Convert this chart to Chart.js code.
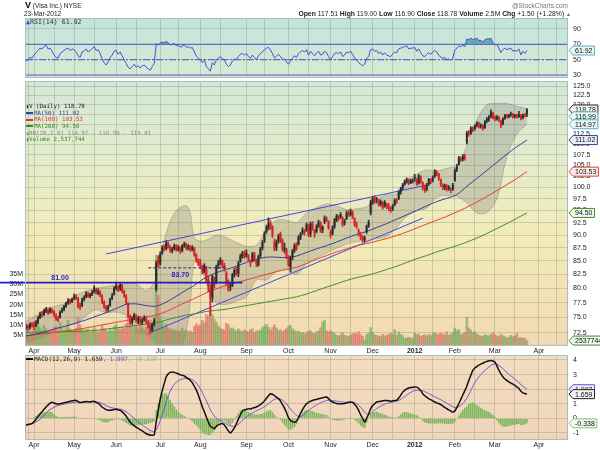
<!DOCTYPE html>
<html><head><meta charset="utf-8">
<script src="https://cdn.jsdelivr.net/npm/chart.js@4.4.1/dist/chart.umd.min.js"></script>
<style>
body{margin:0;background:#fff;width:600px;height:450px;overflow:hidden;position:relative;font-family:"Liberation Sans",Arial,sans-serif;}
canvas{position:absolute;left:0;}
.t{position:absolute;white-space:nowrap;z-index:5;}
.leg{font-family:"DejaVu Sans Mono",monospace;}
.sw{display:inline-block;width:7px;height:2px;vertical-align:middle;margin-right:1px;}
</style></head><body>
<canvas id="rsi" width="600" height="90" style="top:0"></canvas>
<canvas id="main" width="600" height="285" style="top:70px"></canvas>
<canvas id="macd" width="600" height="105" style="top:345px"></canvas>

<div class="t" style="left:25px;top:1px;font-size:6.5px;line-height:9px;color:#222"><b style="font-size:9px;color:#000">V</b> (Visa Inc.) NYSE</div>
<div class="t" style="left:24px;top:10px;font-size:6.5px;line-height:8px;color:#222">23-Mar-2012</div>
<div class="t" style="right:32px;top:2px;font-size:6.5px;line-height:8px;color:#777">@StockCharts.com</div>
<div class="t" style="right:29px;top:10px;font-size:6.8px;line-height:8px;color:#222"><b>Open</b> 117.51 <b>High</b> 119.00 <b>Low</b> 116.90 <b>Close</b> 118.78 <b>Volume</b> 2.5M <b>Chg</b> +1.50 (+1.28%) <span style="color:#2a9a2a;font-size:5px">&#9650;</span></div>

<div class="t leg" style="left:26px;top:18px;font-size:6.6px;line-height:8px;color:#333"><span style="color:#4444cc">&#9650;</span>RSI(14) 61.92</div>

<div class="t leg" style="left:26px;top:103px;font-size:5.8px;line-height:6.65px;">
<div style="color:#222"><span style="font-size:5px">&#9646;</span>V (Daily) 118.78</div>
<div style="color:#3b3b9c"><span class="sw" style="background:#3b3b9c"></span>MA(50) 111.02</div>
<div style="color:#e0392b"><span class="sw" style="background:#e0392b"></span>MA(100) 103.53</div>
<div style="color:#3a8a2a"><span class="sw" style="background:#3a8a2a"></span>MA(200) 94.50</div>
<div style="color:#8a8a8a"><span style="font-size:5px">&#9646;</span>BB(20,2.0) 114.97 - 116.99 - 119.01</div>
<div style="color:#3a8a2a"><span style="font-size:5px">&#9646;</span>Volume 2,537,744</div>
</div>

<div class="t leg" style="left:26px;top:355px;font-size:6px;line-height:7px;color:#222"><span class="sw" style="background:#111"></span>MACD(12,26,9) 1.659<span style="color:#6a4fd6">, 1.997</span><span style="color:#8cc47a">, -0.338</span></div>

<script>
// ---------- DATA ----------
const START_DATE = '2011-03-28';
const SLOTS = 271;
const HOLIDAYS = ['2011-04-22','2011-05-30','2011-07-04','2011-09-05','2011-11-24','2011-12-26','2012-01-02','2012-01-16','2012-02-20','2012-04-06'];
const TICK_LABELS = ['Apr','May','Jun','Jul','Aug','Sep','Oct','Nov','Dec','2012','Feb','Mar','Apr'];

const OPEN = [73.3,73.6,73.3,73.8,73.9,73.6,74.2,75.0,75.6,75.5,
76.0,76.2,75.9,76.3,76.0,75.3,74.9,75.0,76.0,76.3,
76.9,77.5,77.9,77.6,78.2,78.5,78.2,77.0,77.0,78.0,
78.5,79.0,78.6,78.9,79.4,79.8,79.2,79.4,78.7,77.6,
76.8,76.4,77.0,78.2,79.0,80.0,80.3,79.9,80.5,79.5,
78.6,77.4,75.2,74.3,74.9,75.3,74.4,75.0,74.1,74.6,
74.9,74.3,73.6,72.9,73.9,79.8,85.3,84.5,86.5,87.6,
87.3,88.3,87.7,86.9,87.4,87.9,87.1,87.5,86.9,87.9,
88.2,87.4,87.7,87.1,87.5,86.2,85.0,84.8,83.9,83.0,
83.8,81.6,79.9,78.4,81.6,81.0,84.1,84.7,85.0,84.2,
82.8,80.6,80.4,80.5,82.4,83.4,82.6,84.9,85.8,86.5,
86.0,86.0,84.7,85.0,86.3,85.0,84.2,85.9,87.4,88.8,
90.6,91.3,92.5,91.6,88.7,87.5,88.8,90.2,89.0,87.1,
87.1,85.6,83.8,85.7,87.0,88.1,88.2,89.4,90.4,90.7,
90.9,91.9,90.2,92.3,90.9,90.6,91.7,92.5,91.0,92.6,
93.4,92.7,90.6,90.3,91.7,93.0,93.7,93.6,93.5,92.4,
93.3,94.5,94.1,94.6,93.3,92.1,90.9,90.2,89.5,89.0,
90.6,91.8,94.5,96.7,97.9,97.2,97.1,96.2,96.6,95.9,
96.4,96.0,95.2,95.3,96.2,97.3,97.5,98.9,99.8,100.7,
101.2,101.6,101.0,101.3,102.3,101.7,100.9,102.4,101.0,100.1,
99.5,100.7,101.5,101.5,102.5,103.4,103.0,101.7,100.4,99.9,
100.3,99.7,99.6,99.6,101.5,103.9,105.2,106.6,106.3,107.0,
110.5,112.9,112.7,113.9,113.8,114.7,115.2,114.5,114.6,114.1,
115.8,116.1,116.9,117.8,116.8,116.3,116.7,115.8,115.0,116.5,
117.3,116.9,117.4,117.5,116.9,117.3,116.9,117.3,116.6,117.4,
117.51];
const HIGH = [73.9,73.8,74.1,74.2,74.3,74.5,75.2,75.9,76.0,76.4,
76.7,76.5,76.6,76.5,76.2,75.6,75.2,76.1,76.6,77.1,
77.6,78.2,78.1,78.3,79.0,78.9,78.4,77.4,78.3,78.7,
79.4,79.3,79.1,79.6,80.5,80.1,79.9,79.6,78.9,77.8,
77.0,77.1,78.3,79.1,80.3,81.1,80.5,80.9,80.7,79.7,
78.9,77.5,75.4,75.1,75.7,75.5,75.2,75.2,74.8,75.3,
75.1,74.5,73.8,74.1,74.9,85.0,86.0,86.7,87.9,88.0,
88.9,88.6,87.9,87.6,88.2,88.1,87.9,87.7,88.1,88.6,
88.4,88.1,87.9,87.9,87.6,86.4,85.4,85.3,84.2,84.5,
84.0,82.3,80.6,82.4,82.0,84.2,85.1,85.6,85.2,84.6,
83.0,81.5,81.0,82.7,83.6,83.8,84.9,86.3,86.8,86.9,
87.1,86.2,85.2,86.6,86.6,85.3,86.1,87.6,88.9,90.7,
92.0,93.5,92.9,91.9,89.2,89.0,90.2,90.6,89.3,88.4,
87.4,86.0,85.9,87.2,88.3,88.5,89.9,90.5,91.5,91.1,
92.4,92.2,92.6,92.7,91.1,92.1,93.0,92.7,91.9,93.9,
93.7,92.9,91.0,91.9,93.4,94.2,94.0,94.6,93.7,93.2,
94.9,95.0,95.3,94.9,93.5,92.6,91.2,90.5,89.9,89.8,
92.0,93.0,97.2,98.0,98.2,97.8,97.4,97.3,96.9,97.1,
96.6,96.5,95.8,96.3,97.5,97.6,99.3,100.0,100.9,101.7,
102.1,101.9,101.8,101.9,102.9,102.0,102.9,102.6,101.2,100.5,
100.9,102.0,101.9,102.6,104.0,103.8,103.2,101.9,100.8,100.7,
100.6,100.4,99.9,100.9,104.2,105.2,107.1,107.0,107.5,107.6,
113.2,113.4,114.4,114.3,114.9,115.6,115.5,115.1,114.8,115.9,
116.7,117.2,118.7,118.1,117.1,117.2,117.0,116.0,116.7,117.5,
117.6,117.6,118.1,117.8,117.5,117.6,118.3,117.5,117.6,117.8,
119.00];
const LOW = [73.0,72.9,73.1,73.4,73.0,73.5,74.0,74.8,75.1,75.3,
75.8,75.5,75.7,75.7,75.1,74.5,74.3,74.9,75.8,76.1,
76.7,77.2,77.3,77.5,78.0,78.0,76.6,76.3,76.8,77.8,
78.3,78.4,78.3,78.7,79.2,79.0,78.9,78.5,77.3,76.5,
76.0,76.1,76.9,78.0,78.8,79.7,79.4,79.6,79.2,78.4,
77.3,75.0,73.9,73.9,74.6,74.2,74.0,73.9,73.8,74.4,
74.0,73.3,72.4,72.7,73.6,79.5,83.9,84.2,86.2,86.9,
87.1,87.4,86.6,86.5,87.1,86.8,86.9,86.4,86.7,87.6,
87.1,87.1,86.8,86.9,85.9,84.7,84.1,83.6,82.6,82.7,
81.1,79.4,75.3,77.6,80.1,80.8,83.6,84.3,83.7,83.1,
80.5,79.5,79.6,80.3,82.0,82.3,82.1,84.7,85.5,85.5,
85.7,85.0,83.9,84.8,84.9,83.9,84.0,85.6,87.1,88.5,
90.3,91.0,91.1,89.5,86.9,87.0,88.4,88.5,86.9,86.5,
85.4,84.0,82.9,85.2,86.6,87.0,88.0,89.1,90.1,90.0,
90.7,89.7,89.6,90.9,89.5,90.4,91.5,90.5,90.4,92.3,
92.7,91.1,89.4,90.0,91.3,92.7,92.9,93.3,91.7,92.0,
93.1,93.8,93.9,93.3,91.7,91.3,89.8,89.1,88.6,88.7,
90.3,91.5,94.1,96.3,96.5,96.6,96.0,95.9,95.3,95.7,
95.4,95.0,94.6,95.0,96.0,96.5,97.3,98.5,99.5,100.4,
100.9,100.6,100.8,101.0,101.4,100.4,100.7,100.9,99.4,98.9,
99.2,100.4,100.8,101.2,102.2,102.6,101.6,100.2,99.5,99.5,
99.2,99.3,98.8,99.3,101.3,103.5,105.0,105.9,106.0,106.2,
110.1,111.9,112.4,113.1,113.5,114.3,114.0,114.0,113.5,113.9,
115.4,115.7,116.6,116.3,115.8,116.0,115.6,114.1,114.8,116.2,
116.5,116.6,117.0,116.5,116.6,116.5,116.7,116.1,116.3,116.9,
116.90];
const CLOSE = [73.6,73.2,73.9,73.6,73.4,74.3,74.9,75.6,75.4,76.1,
76.3,75.8,76.4,76.0,75.4,74.8,74.6,75.9,76.3,76.9,
77.4,77.9,77.6,78.1,78.6,78.3,76.9,76.7,78.0,78.4,
79.1,78.6,78.9,79.3,79.9,79.2,79.5,78.8,77.6,76.8,
76.3,76.9,78.1,78.8,80.0,80.4,79.8,80.6,79.5,78.7,
77.6,75.3,74.2,74.8,75.4,74.5,74.9,74.1,74.6,75.0,
74.3,73.6,72.8,73.9,74.6,84.6,84.3,86.4,87.6,87.2,
88.4,87.8,86.9,87.3,87.9,87.0,87.6,86.8,87.9,88.3,
87.4,87.8,87.1,87.6,86.2,85.1,84.5,84.0,82.9,84.2,
81.4,80.3,78.2,82.1,80.6,83.9,84.6,85.2,84.1,83.6,
80.9,79.8,80.2,82.4,83.3,82.7,84.6,86.0,86.4,85.8,
86.5,85.3,84.6,86.4,85.2,84.4,85.9,87.3,88.6,90.4,
91.6,92.4,91.4,89.9,87.4,88.6,89.8,88.9,87.2,87.6,
85.7,84.2,85.6,86.9,88.0,87.3,89.6,90.2,91.0,90.4,
92.1,90.0,92.3,91.2,90.3,91.8,92.7,90.8,91.6,93.4,
93.0,91.4,89.9,91.6,93.2,93.9,93.4,94.2,92.0,92.8,
94.5,94.1,94.8,93.6,92.0,91.7,90.3,89.6,88.9,89.5,
91.8,92.6,96.9,97.6,96.8,97.3,96.4,96.9,95.6,96.8,
95.9,95.3,95.1,96.0,97.2,96.9,99.0,99.8,100.6,101.4,
101.8,100.9,101.5,101.5,101.9,100.8,102.6,101.2,99.8,99.3,
100.6,101.8,101.2,102.3,103.6,103.1,101.9,100.6,100.0,100.4,
99.6,100.1,99.4,100.6,103.8,104.7,106.8,106.4,107.1,106.6,
112.8,112.5,114.1,113.6,114.6,115.3,114.4,114.7,113.9,115.6,
116.3,116.8,117.9,116.6,116.2,116.8,115.9,114.6,116.4,117.2,
116.8,117.3,117.6,116.8,117.2,116.9,117.5,116.4,117.3,117.28,
118.78];
// volume in millions of shares
const VOLUME = [7.5,6.8,5.9,6.2,8.1,
9.2,10.5,8.8,7.4,9.9,8.2,7.1,6.5,7.8,8.9,9.4,7.2,11.3,8.5,7.6,9.1,12.4,8.3,6.9,
7.8,8.6,13.9,10.2,8.4,6.7,7.9,8.1,6.4,7.2,8.8,7.5,6.6,7.3,9.8,8.4,7.6,6.9,8.2,7.1,9.4,
10.3,8.6,7.9,9.1,8.4,10.8,14.6,12.2,9.5,8.3,9.7,8.1,10.4,8.8,7.6,9.2,10.9,12.5,11.0,10.1,44.0,24.5,
14.2,11.6,8.9,10.4,8.7,7.9,8.3,7.1,7.8,6.9,7.4,8.6,7.2,7.7,6.8,7.3,6.6,9.4,10.7,9.8,
10.2,12.4,11.3,15.2,14.6,18.4,15.1,12.8,11.5,9.6,8.4,8.1,7.6,10.9,10.2,8.3,8.7,7.9,7.1,8.2,7.4,6.9,7.7,
7.2,6.8,7.9,8.3,6.5,7.4,7.1,7.8,8.9,9.6,10.4,9.1,7.6,8.8,10.2,8.7,7.3,7.9,6.8,7.5,8.4,
9.6,10.1,8.2,7.4,6.9,7.2,6.1,6.6,5.8,6.3,6.9,7.4,6.2,5.9,6.8,7.1,8.9,11.6,12.4,7.3,6.8,
7.4,6.6,5.9,5.2,4.8,5.5,6.4,5.1,4.9,4.6,5.3,5.7,6.2,5.8,6.9,5.4,4.7,2.9,5.6,6.1,8.8,
6.4,5.3,5.1,4.9,4.4,5.6,4.8,5.2,5.5,6.1,5.4,7.9,5.1,6.8,5.6,4.9,3.6,3.9,4.1,3.7,3.8,
6.2,5.4,5.8,4.6,5.1,5.3,4.9,5.6,4.8,5.9,6.4,5.7,5.5,6.2,5.8,5.3,6.9,5.1,5.6,6.4,
8.6,7.2,7.9,5.4,5.8,6.5,13.9,8.7,7.6,6.3,6.9,5.8,5.2,4.9,4.6,5.4,5.1,4.8,5.6,6.2,
5.4,4.9,4.3,5.7,4.8,4.5,3.9,4.2,5.1,4.4,4.7,5.9,3.8,4.1,3.6,3.7,2.54];
const RSI = [48,50,53,52,56,59,62,65,64,67,
69,64,65,61,56,53,52,58,60,62,
64,65,62,64,63,60,55,53,60,61,
64,60,62,64,67,62,63,58,51,46,
43,47,53,56,61,62,57,60,55,50,
45,40,38,41,44,40,42,39,42,43,
40,38,36,41,45,71,69,72,73,72,
74,72,69,70,71,68,69,66,68,69,
66,67,65,66,60,55,52,50,46,50,
41,38,35,46,43,50,52,54,51,50,
44,41,43,48,51,50,54,57,58,56,
58,54,52,56,53,50,55,58,60,63,
65,66,63,58,52,55,57,54,50,51,
47,44,48,52,55,53,58,60,62,60,
63,56,61,58,55,59,61,56,57,61,
59,54,50,54,58,59,58,60,54,56,
60,59,61,57,52,50,46,44,42,44,
52,54,63,64,61,62,58,60,56,59,
56,55,54,57,60,59,64,65,66,67,
68,64,65,65,66,61,64,59,55,54,
57,59,57,60,62,60,56,53,52,53,
50,51,49,52,62,65,68,67,69,67,
77,76,78,76,77,78,75,75,73,76,
77,77,78,72,69,70,65,59,63,65,
63,64,65,61,62,61,64,56,61,58,
61.92];
const MACD = [-0.45,-0.42,-0.39,-0.36,-0.22,-0.05,0.12,0.3,0.45,0.62,
0.78,0.92,1.05,1.1,1.05,1.0,0.98,1.0,1.04,1.08,
1.1,1.14,1.17,1.2,1.23,1.23,1.15,1.08,1.1,1.13,
1.16,1.14,1.13,1.15,1.18,1.1,1.02,0.92,0.78,0.68,
0.6,0.55,0.56,0.58,0.6,0.62,0.58,0.55,0.45,0.32,
0.15,-0.05,-0.25,-0.4,-0.5,-0.6,-0.68,-0.78,-0.85,-0.95,
-1.05,-1.1,-1.14,-1.16,-1.12,-0.2,0.55,1.3,1.9,2.4,
2.85,3.05,3.15,3.17,3.15,3.1,3.05,2.98,2.95,2.9,
2.8,2.72,2.6,2.45,2.2,1.95,1.6,1.2,0.8,0.45,
0.1,-0.25,-0.55,-0.62,-0.7,-0.55,-0.45,-0.38,-0.36,-0.45,
-0.65,-0.85,-1.0,-0.85,-0.65,-0.36,-0.05,0.25,0.5,0.58,
0.62,0.66,0.64,0.7,0.74,0.78,0.85,0.95,1.05,1.2,
1.38,1.55,1.69,1.65,1.55,1.46,1.35,1.2,0.95,0.7,
0.4,0.05,-0.14,-0.22,-0.26,-0.2,0.05,0.35,0.6,0.82,
1.0,1.1,1.18,1.23,1.27,1.3,1.35,1.38,1.42,1.45,
1.46,1.35,1.2,1.12,1.06,1.02,1.0,1.0,1.0,1.02,
1.06,1.1,1.12,1.1,0.95,0.8,0.55,0.25,0.0,-0.25,
0.0,0.3,0.65,0.88,1.0,1.12,1.15,1.18,1.2,1.22,
1.23,1.2,1.18,1.2,1.22,1.23,1.4,1.58,1.8,1.92,
2.02,2.08,2.12,2.14,2.15,2.14,2.05,1.9,1.69,1.55,
1.45,1.35,1.28,1.2,1.12,1.06,1.02,0.95,0.85,0.75,
0.66,0.58,0.5,0.43,0.5,0.75,1.0,1.3,1.6,1.9,
2.2,2.6,2.95,3.29,3.45,3.55,3.65,3.72,3.78,3.85,
3.9,3.95,3.97,3.93,3.86,3.6,3.3,3.05,2.85,2.7,
2.6,2.5,2.42,2.35,2.26,2.15,2.05,1.85,1.75,1.7,
1.659];
const SIGNAL = [-0.47,-0.44,-0.4,-0.35,-0.29,-0.22,-0.16,-0.06,0.06,0.2,
0.35,0.5,0.6,0.68,0.76,0.82,0.88,0.92,0.95,0.98,
1.01,1.04,1.06,1.08,1.1,1.12,1.12,1.11,1.11,1.11,
1.12,1.12,1.12,1.13,1.14,1.13,1.11,1.07,1.02,0.95,
0.88,0.81,0.76,0.72,0.69,0.67,0.65,0.63,0.6,0.54,
0.46,0.36,0.24,0.11,-0.01,-0.13,-0.24,-0.35,-0.45,-0.55,
-0.65,-0.74,-0.82,-0.89,-0.93,-0.78,-0.5,-0.15,0.25,0.7,
1.15,1.55,1.88,2.14,2.33,2.48,2.58,2.65,2.7,2.72,
2.73,2.72,2.7,2.65,2.56,2.42,2.25,2.02,1.78,1.5,
1.2,0.9,0.6,0.35,0.15,0.02,-0.08,-0.15,-0.22,-0.3,
-0.38,-0.46,-0.52,-0.55,-0.55,-0.5,-0.4,-0.28,-0.14,-0.02,
0.1,0.2,0.3,0.38,0.45,0.52,0.58,0.65,0.72,0.8,
0.9,1.0,1.12,1.22,1.3,1.35,1.35,1.32,1.25,1.15,
1.0,0.82,0.65,0.48,0.33,0.2,0.12,0.12,0.2,0.3,
0.42,0.54,0.65,0.75,0.84,0.92,1.0,1.07,1.13,1.18,
1.22,1.24,1.24,1.22,1.2,1.18,1.16,1.14,1.12,1.1,
1.1,1.1,1.1,1.1,1.07,1.01,0.9,0.76,0.6,0.42,
0.3,0.28,0.34,0.45,0.56,0.67,0.76,0.84,0.91,0.97,
1.02,1.06,1.09,1.12,1.15,1.18,1.23,1.3,1.4,1.5,
1.6,1.7,1.78,1.85,1.9,1.92,1.93,1.92,1.88,1.83,
1.77,1.7,1.63,1.55,1.48,1.41,1.35,1.28,1.2,1.12,
1.04,0.96,0.88,0.8,0.74,0.75,0.8,0.9,1.02,1.18,
1.38,1.62,1.9,2.2,2.45,2.66,2.84,3.0,3.15,3.28,
3.4,3.52,3.62,3.7,3.74,3.72,3.64,3.52,3.4,3.27,
3.15,3.03,2.91,2.8,2.68,2.56,2.44,2.32,2.2,2.1,
1.997];

// smooth overlays, read at sample sessions
const SAMPLE_DATES = ['2011-03-28','2011-04-04','2011-04-11','2011-04-18','2011-04-26','2011-05-03','2011-05-10','2011-05-17','2011-05-24','2011-06-01',
'2011-06-08','2011-06-15','2011-06-22','2011-06-29','2011-07-07','2011-07-14','2011-07-21','2011-07-25','2011-07-27','2011-08-01',
'2011-08-04','2011-08-11','2011-08-18','2011-08-25','2011-09-01','2011-09-09','2011-09-16','2011-09-23','2011-09-30','2011-10-07',
'2011-10-14','2011-10-21','2011-10-28','2011-11-04','2011-11-11','2011-11-18','2011-11-28','2011-12-05','2011-12-12','2011-12-19',
'2011-12-27','2012-01-04','2012-01-11','2012-01-19','2012-01-26','2012-02-02','2012-02-09','2012-02-16','2012-02-24','2012-03-02',
'2012-03-09','2012-03-16','2012-03-23'];
const MA50 = [72.0,72.3,72.7,73.2,73.6,74.1,74.6,75.2,75.8,76.5,
77.2,77.3,77.0,76.9,77.6,78.6,79.7,80.1,80.5,81.3,
82.0,82.8,83.4,84.0,84.7,85.3,85.7,85.7,85.6,85.9,
86.6,87.3,87.9,88.6,89.4,90.1,90.7,91.5,92.3,93.2,
94.1,95.0,96.0,96.9,97.6,98.4,100.2,102.0,103.8,105.7,
107.6,109.4,111.02];
const MA100 = [72.0,72.2,72.4,72.6,72.8,73.0,73.3,73.6,73.9,74.2,
74.5,74.8,75.1,75.4,76.0,76.8,77.6,77.9,78.2,78.7,
79.2,79.9,80.5,81.0,81.5,82.0,82.5,83.0,83.4,83.8,
84.5,85.3,86.0,86.7,87.3,87.9,88.3,88.8,89.3,89.9,
90.6,91.4,92.2,93.0,93.8,94.7,95.7,96.8,98.0,99.3,
100.6,102.0,103.53];
const MA200 = [72.6,72.6,72.6,72.6,72.7,72.7,72.8,72.9,73.1,73.3,
73.5,73.7,73.9,74.1,74.6,75.0,75.4,75.5,75.6,75.8,
76.0,76.2,76.4,76.7,77.0,77.3,77.6,77.9,78.2,78.5,
79.0,79.6,80.2,80.8,81.4,81.9,82.3,82.8,83.4,84.0,
84.7,85.4,86.0,86.7,87.3,87.9,88.6,89.4,90.3,91.3,
92.3,93.4,94.50];
const BB_UPPER = [74.4,75.3,76.5,76.9,77.5,78.8,79.5,80.0,80.3,80.6,
80.9,80.8,79.6,81.8,90.5,95.0,96.0,94.5,89.5,88.8,
89.0,90.0,89.5,88.5,87.8,88.0,91.0,93.0,93.0,92.5,
94.5,95.6,96.4,96.0,95.2,95.4,95.8,97.4,98.3,98.6,
101.5,103.0,103.9,103.7,104.3,105.0,109.5,116.0,120.0,120.4,
120.4,119.6,119.01];
const BB_LOWER = [71.0,71.4,72.0,72.8,73.6,74.0,75.3,76.3,75.8,75.9,
75.3,72.8,72.3,70.8,66.5,68.0,73.0,77.5,85.0,84.0,
81.0,77.5,77.2,77.8,78.5,81.5,81.5,83.0,83.5,82.5,
84.5,85.5,86.5,87.4,88.2,88.7,88.9,89.3,89.7,91.5,
93.8,95.0,95.5,97.8,98.2,98.0,96.6,94.5,94.6,97.5,
107.0,112.5,114.97];

// drawn trend lines and horizontal markers
const TREND_LINES = [
  {from:'2011-05-24', v1:86.3, to:'2012-01-11', v2:100.5},
  {from:'2011-06-23', v1:72.4, to:'2012-01-09', v2:93.4}
];
const LEVELS = [
  {value:81.00, to:'2011-08-30', dashed:false, text:'81.00', textAt:'2011-04-20'},
  {value:83.70, from:'2011-06-23', to:'2011-08-18', dashed:true, text:'83.70', textAt:'2011-07-18'}
];

const PRICE_TICKS = [72.5,75,77.5,80,82.5,85,87.5,90,92.5,95,97.5,100,102.5,105,107.5,110,112.5,115,117.5,120,122.5,125];
const VOLUME_TICKS = [5,10,15,20,25,30,35];
const RSI_TICKS = [30,50,70,90];
const RSI_LEVELS = [70,50,30];
const MACD_TICKS = [-1,0,1,2,3,4];

// ---------- CALENDAR ----------
function buildDates(){
  const out=[]; const d=new Date(START_DATE+'T12:00:00Z');
  while(out.length<SLOTS){
    const s=d.toISOString().slice(0,10), w=d.getUTCDay();
    if(w!==0 && w!==6 && !HOLIDAYS.includes(s)) out.push(s);
    d.setUTCDate(d.getUTCDate()+1);
  }
  return out;
}
const DATES = buildDates();
const N = CLOSE.length;
const tickText = {}; const gridKind = {};
(function(){
  let k=0, lastMid='';
  for(let i=1;i<DATES.length;i++){
    const m=DATES[i].slice(0,7), pm=DATES[i-1].slice(0,7);
    if(m!==pm){ tickText[i]=TICK_LABELS[k++]||''; gridKind[i]='m'; }
    if(+DATES[i].slice(8,10)>=15 && lastMid!==m){ gridKind[i]=gridKind[i]||'h'; lastMid=m; }
  }
})();
const FONT = '"Liberation Sans", Arial, sans-serif';
const GRID = 'rgba(120,140,120,0.33)';

function xScale(showLabels, h){
  return {
    type:'category', labels:DATES, offset:true,
    grid:{offset:false, drawTicks:false, lineWidth:1,
      color:c=> gridKind[c.index] ? GRID : 'rgba(0,0,0,0)'},
    border:{display:false},
    ticks:{display:showLabels, autoSkip:false, maxRotation:0, minRotation:0, padding:1, color:'#222',
      font:c=>({family:FONT, size:7, weight: tickText[c.index]==='2012'?'bold':'normal'}),
      callback:(v,i)=> tickText[i]||''},
    afterFit:s=>{ s.height=h; }
  };
}
function rightAxis(extra){
  return Object.assign({
    position:'right',
    grid:{color:GRID, drawTicks:false},
    border:{display:false},
    ticks:{autoSkip:false, padding:5, color:'#222', font:{family:FONT,size:7}},
    afterFit:s=>{ s.width=32; }
  }, extra);
}

// ---------- PLUGINS ----------
const panel = {
  id:'panel',
  beforeDraw(chart,args,o){
    const a=chart.chartArea, ctx=chart.ctx;
    const g=ctx.createLinearGradient(0,a.top,0,a.bottom);
    o.stops.forEach(s=>g.addColorStop(s[0],s[1]));
    ctx.save(); ctx.fillStyle=g; ctx.fillRect(a.left,a.top,a.right-a.left,a.bottom-a.top); ctx.restore();
  },
  afterDraw(chart,args,o){
    const a=chart.chartArea, ctx=chart.ctx;
    ctx.save(); ctx.strokeStyle='#a9bcbc'; ctx.lineWidth=1;
    ctx.strokeRect(a.left+0.5,a.top+0.5,a.right-a.left-1,a.bottom-a.top-1); ctx.restore();
    (o.tags||[]).forEach(t=>{
      const y=chart.scales[t.axis].getPixelForValue(t.value); const x=a.right+1;
      ctx.save(); ctx.font='7px '+FONT;
      const w=ctx.measureText(t.text).width+4;
      ctx.beginPath(); ctx.moveTo(x,y); ctx.lineTo(x+4,y-4.5); ctx.lineTo(x+4+w,y-4.5); ctx.lineTo(x+4+w,y+4.5); ctx.lineTo(x+4,y+4.5); ctx.closePath();
      ctx.fillStyle=t.fill; ctx.fill(); ctx.strokeStyle=t.stroke; ctx.lineWidth=1; ctx.stroke();
      ctx.fillStyle='#111'; ctx.textBaseline='middle'; ctx.fillText(t.text,x+6,y+0.5); ctx.restore();
    });
  }
};
const marks = {
  id:'marks',
  afterDatasetsDraw(chart){
    const xs=chart.scales.x, ys=chart.scales.y, ctx=chart.ctx, a=chart.chartArea;
    ctx.save();
    ctx.beginPath(); ctx.rect(0,a.top,a.right,a.bottom-a.top); ctx.clip();
    LEVELS.forEach(L=>{
      const y=ys.getPixelForValue(L.value);
      const x1=L.from? xs.getPixelForValue(DATES.indexOf(L.from)) : 0;
      const x2=xs.getPixelForValue(DATES.indexOf(L.to));
      ctx.strokeStyle='#1f1fc8'; ctx.lineWidth=L.dashed?1:1.6; ctx.setLineDash(L.dashed?[3,2]:[]);
      ctx.beginPath(); ctx.moveTo(x1,y); ctx.lineTo(x2,y); ctx.stroke();
      ctx.setLineDash([]);
      ctx.fillStyle='#1f1fc8'; ctx.font='bold 7px '+FONT; ctx.textAlign='center';
      const tx=xs.getPixelForValue(DATES.indexOf(L.textAt));
      ctx.fillText(L.text, tx, L.dashed? y+9 : y-3);
    });
    ctx.restore();
  }
};

Chart.defaults.font.family = FONT;
const base = {responsive:false, animation:false, devicePixelRatio:1, events:[]};

// ---------- RSI ----------
new Chart(document.getElementById('rsi'), {
  type:'line',
  data:{labels:DATES, datasets:[
    {data:RSI, borderColor:'#4c4cd4', borderWidth:1, pointRadius:0, tension:0,
     fill:{target:{value:70}, above:'rgba(70,150,160,0.75)', below:'rgba(0,0,0,0)'}, order:0},
    ...RSI_LEVELS.map(v=>({data:[{x:DATES[0],y:v},{x:DATES[DATES.length-1],y:v}], borderColor:'#6565cc',
      borderWidth:1.2, borderDash: v===50?[7,2,2,2]:[], pointRadius:0, fill:false, order:1}))
  ]},
  options:Object.assign({}, base, {
    layout:{padding:{left:25, top:18, bottom:12, right:0}, autoPadding:false},
    plugins:{legend:{display:false}, tooltip:{enabled:false},
      panel:{stops:[[0,'#c3e3dc'],[1,'#d6ecd3']], tags:[{axis:'y', value:RSI[N-1], text:RSI[N-1].toFixed(2), fill:'#e9f6f6', stroke:'#53b3c3'}]}},
    scales:{
      x:xScale(false,0),
      y:rightAxis({type:'linear', min:26.1, max:104.3,
        afterBuildTicks:s=>{ s.ticks=RSI_TICKS.map(v=>({value:v})); }})
    }
  }),
  plugins:[panel]
});

// ---------- PRICE ----------
const up = CLOSE.map((c,i)=> i===0 ? c>=OPEN[0] : c>=CLOSE[i-1]);
const pts = arr => SAMPLE_DATES.map((d,k)=>({x:d, y:arr[k]}));
new Chart(document.getElementById('main'), {
  data:{labels:DATES, datasets:[
    {type:'bar', data:OPEN.map((o,i)=>[o,CLOSE[i]]), yAxisID:'y', grouped:false,
      backgroundColor:up.map(u=>u?'#2a2a2a':'#d92222'), barPercentage:1, categoryPercentage:0.95, order:0},
    {type:'bar', data:LOW.map((l,i)=>[l,HIGH[i]]), yAxisID:'y', grouped:false,
      backgroundColor:up.map(u=>u?'#333':'#d92222'), barThickness:1, order:1},
    {type:'line', data:pts(MA50), yAxisID:'y', borderColor:'#3b3b9c', borderWidth:1, pointRadius:0, tension:0.3, order:3},
    {type:'line', data:pts(MA100), yAxisID:'y', borderColor:'#e8402e', borderWidth:1, pointRadius:0, tension:0.3, order:3},
    {type:'line', data:pts(MA200), yAxisID:'y', borderColor:'#3f8f2b', borderWidth:1, pointRadius:0, tension:0.3, order:3},
    ...TREND_LINES.map(t=>({type:'line', data:[{x:t.from,y:t.v1},{x:t.to,y:t.v2}], yAxisID:'y', borderColor:'#4545e6', borderWidth:1, pointRadius:0, order:4})),
    {type:'bar', data:VOLUME, yAxisID:'yv', grouped:false,
      backgroundColor:up.map(u=>u?'rgba(100,170,78,0.62)':'rgba(224,100,100,0.6)'), barPercentage:1, categoryPercentage:1, order:8},
    {type:'line', data:pts(BB_UPPER), yAxisID:'y', borderColor:'rgba(110,110,110,0.35)', borderWidth:1, pointRadius:0, tension:0.35,
      fill:'+1', backgroundColor:'rgba(115,115,110,0.27)', order:9},
    {type:'line', data:pts(BB_LOWER), yAxisID:'y', borderColor:'rgba(110,110,110,0.35)', borderWidth:1, pointRadius:0, tension:0.35, fill:false, order:9}
  ]},
  options:Object.assign({}, base, {
    layout:{padding:{left:0, top:11, bottom:0, right:0}, autoPadding:false},
    plugins:{legend:{display:false}, tooltip:{enabled:false},
      panel:{stops:[[0,'#d3e8d8'],[0.35,'#e7ecc8'],[0.6,'#f3ebb8'],[1,'#f3d9b4']], tags:[
        {axis:'y', value:CLOSE[N-1], text:CLOSE[N-1].toFixed(2), fill:'#f4f4f4', stroke:'#222'},
        {axis:'y', value:(BB_UPPER[BB_UPPER.length-1]+BB_LOWER[BB_LOWER.length-1])/2, text:'116.99', fill:'#e9f6f6', stroke:'#53b3c3'},
        {axis:'y', value:BB_LOWER[BB_LOWER.length-1], text:BB_LOWER[BB_LOWER.length-1].toFixed(2), fill:'#e9f6f6', stroke:'#53b3c3'},
        {axis:'y', value:MA50[MA50.length-1], text:MA50[MA50.length-1].toFixed(2), fill:'#eeeefa', stroke:'#3b3b9c'},
        {axis:'y', value:MA100[MA100.length-1], text:MA100[MA100.length-1].toFixed(2), fill:'#fbeeee', stroke:'#e8402e'},
        {axis:'y', value:MA200[MA200.length-1], text:MA200[MA200.length-1].toFixed(2), fill:'#eef7ea', stroke:'#3f8f2b'},
        {axis:'yv', value:VOLUME[N-1], text:'2537744', fill:'#eef7ea', stroke:'#3f8f2b'}
      ]}},
    scales:{
      x:xScale(true,9),
      y:rightAxis({type:'logarithmic', min:70.45, max:126.5,
        afterBuildTicks:s=>{ s.ticks=PRICE_TICKS.map(v=>({value:v})); },
        ticks:{autoSkip:false, padding:5, color:'#222', font:{family:FONT,size:7}, callback:v=>Number(v).toFixed(1)}}),
      yv:{type:'linear', position:'left', min:0, max:128.6,
        afterBuildTicks:s=>{ s.ticks=VOLUME_TICKS.map(v=>({value:v})); },
        grid:{drawOnChartArea:false, drawTicks:false}, border:{display:false},
        ticks:{autoSkip:false, padding:2, color:'#222', font:{family:FONT,size:7}, callback:v=>v+'M'},
        afterFit:s=>{ s.width=25; }}
    }
  }),
  plugins:[panel, marks]
});

// ---------- MACD ----------
const HIST = MACD.map((m,i)=> m - SIGNAL[i]); // MACD histogram = MACD minus signal
new Chart(document.getElementById('macd'), {
  data:{labels:DATES, datasets:[
    {type:'line', data:MACD, borderColor:'#111', borderWidth:1.5, pointRadius:0, tension:0.2, order:0},
    {type:'line', data:SIGNAL, borderColor:'#6a4fd6', borderWidth:1, pointRadius:0, tension:0.2, order:1},
    {type:'bar', data:HIST, backgroundColor:'#79b75c', barPercentage:0.8, categoryPercentage:1, order:2}
  ]},
  options:Object.assign({}, base, {
    layout:{padding:{left:25, top:10, bottom:0, right:0}, autoPadding:false},
    plugins:{legend:{display:false}, tooltip:{enabled:false},
      panel:{stops:[[0,'#f3dcc0'],[1,'#f1d5ba']], tags:[
        {axis:'y', value:SIGNAL[N-1], text:SIGNAL[N-1].toFixed(3), fill:'#f1eefc', stroke:'#6a4fd6'},
        {axis:'y', value:MACD[N-1], text:MACD[N-1].toFixed(3), fill:'#f4f4f4', stroke:'#222'},
        {axis:'y', value:HIST[N-1], text:HIST[N-1].toFixed(3), fill:'#eef7ea', stroke:'#8cc47a'}
      ]}},
    scales:{
      x:xScale(true,10),
      y:rightAxis({type:'linear', min:-1.48, max:4.34,
        afterBuildTicks:s=>{ s.ticks=MACD_TICKS.map(v=>({value:v})); },
        ticks:{autoSkip:false, padding:5, color:'#222', font:{family:FONT,size:7}, callback:v=>String(v)}})
    }
  }),
  plugins:[panel]
});
</script>
</body></html>
